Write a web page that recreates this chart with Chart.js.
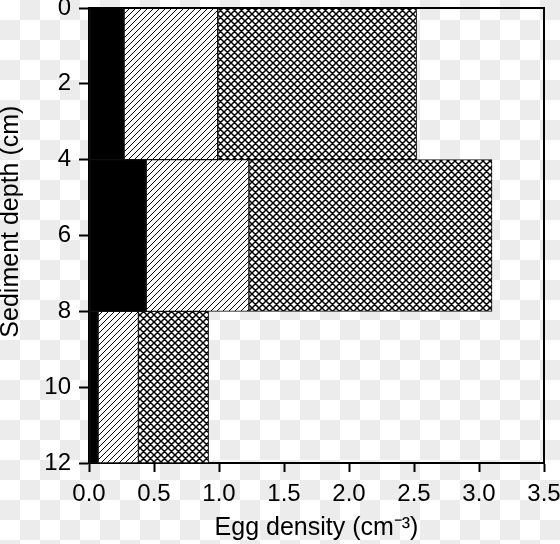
<!DOCTYPE html>
<html>
<head>
<meta charset="utf-8">
<script src="https://cdn.jsdelivr.net/npm/chart.js@4/dist/chart.umd.min.js"></script>
<style>
  html, body { margin: 0; padding: 0; }
  body {
    width: 560px; height: 544px; overflow: hidden;
    background: repeating-conic-gradient(#ececec 0% 25%, #ffffff 0% 50%) 0 0 / 40px 40px;
  }
  canvas { display: block; }
</style>
</head>
<body>
<canvas id="eggChart" width="560" height="544"></canvas>
<script>
// depth layers (cm) and egg density per layer, stacked left to right
var depthBins = ['0-4', '4-8', '8-12'];
var solidPart = [0.27, 0.44, 0.07];
var hatchPart = [0.72, 0.79, 0.31];
var crossPart = [1.53, 1.87, 0.54];

var xTicks = [0, 0.5, 1, 1.5, 2, 2.5, 3, 3.5];
var depthTicks = [0, 2, 4, 6, 8, 10, 12];

var FONT = "'Liberation Sans', Arial, Helvetica, sans-serif";

// hatch fills
function makePattern(cross) {
    var p = cross ? 7 : 6;
    var c = document.createElement('canvas');
    c.width = p; c.height = p;
    var g = c.getContext('2d');
    g.fillStyle = '#fff';
    g.fillRect(0, 0, p, p);
    g.strokeStyle = '#000';
    g.lineWidth = cross ? 1.5 : 1;
    g.beginPath();
    // "/" lines
    g.moveTo(-1, p + 1); g.lineTo(p + 1, -1);
    g.moveTo(-1, 1); g.lineTo(1, -1);
    g.moveTo(p - 1, p + 1); g.lineTo(p + 1, p - 1);
    if (cross) {
        // "\" lines
        g.moveTo(-1, -1); g.lineTo(p + 1, p + 1);
        g.moveTo(p - 1, -1); g.lineTo(p + 1, 1);
        g.moveTo(-1, p - 1); g.lineTo(1, p + 1);
    }
    g.stroke();
    return g.createPattern(c, 'repeat');
}

var frame = {
    id: 'frame',
    afterDraw: function (chart) {
        var a = chart.chartArea, ctx = chart.ctx;
        ctx.save();
        ctx.strokeStyle = '#000';
        ctx.lineWidth = 2;
        ctx.beginPath();
        ctx.moveTo(a.left, a.top);
        ctx.lineTo(a.right, a.top);
        ctx.lineTo(a.right, a.bottom);
        ctx.stroke();
        ctx.restore();
    }
};

var barStyle = { borderColor: '#111', borderWidth: 1, borderSkipped: false,
                 barPercentage: 1, categoryPercentage: 1 };

new Chart(document.getElementById('eggChart'), {
    type: 'bar',
    data: {
        labels: depthBins,
        datasets: [
            Object.assign({ label: 'a', data: solidPart, backgroundColor: '#000' }, barStyle),
            Object.assign({ label: 'b', data: hatchPart, backgroundColor: makePattern(false) }, barStyle),
            Object.assign({ label: 'c', data: crossPart, backgroundColor: makePattern(true) }, barStyle)
        ]
    },
    options: {
        indexAxis: 'y',
        responsive: false,
        animation: false,
        devicePixelRatio: 1,
        layout: { padding: { top: 8, right: 16, bottom: 5, left: 0 } },
        plugins: { legend: { display: false }, tooltip: { enabled: false } },
        scales: {
            x: {
                type: 'linear', min: 0, max: 3.5, stacked: true, offset: false,
                afterBuildTicks: function (s) { s.ticks = xTicks.map(function (v) { return { value: v }; }); },
                afterFit: function (s) { s.paddingLeft = 0; s.paddingRight = 0; s.height = 76; },
                grid: { offset: false, drawOnChartArea: false, tickLength: 9, tickWidth: 2, tickColor: '#000' },
                border: { display: true, width: 2, color: '#000' },
                ticks: {
                    color: '#000', padding: 8, maxRotation: 0,
                    font: { family: FONT, size: 24 },
                    callback: function (v) { return Number(v).toFixed(1); }
                },
                title: {
                    display: true, text: 'Egg density (cm\u207B\u00B3)', color: '#000',
                    padding: 0, font: { family: FONT, size: 25, lineHeight: 0.85 }
                }
            },
            y: { type: 'category', stacked: true, display: false },
            depth: {
                type: 'linear', axis: 'y', position: 'left', min: 0, max: 12, reverse: true,
                offset: false,
                afterBuildTicks: function (s) { s.ticks = depthTicks.map(function (v) { return { value: v }; }); },
                afterFit: function (s) { s.width = 89; s.paddingTop = 0; s.paddingBottom = 0; },
                grid: { offset: false, drawOnChartArea: false, tickLength: 10, tickWidth: 2, tickColor: '#000' },
                border: { display: true, width: 2, color: '#000' },
                ticks: { color: '#000', padding: 8, font: { family: FONT, size: 24 } },
                title: {
                    display: true, text: '    Sediment depth (cm)', color: '#000',
                    padding: 0, font: { family: FONT, size: 25, lineHeight: 0.85 }
                }
            }
        }
    },
    plugins: [frame]
});
</script>
</body>
</html>
